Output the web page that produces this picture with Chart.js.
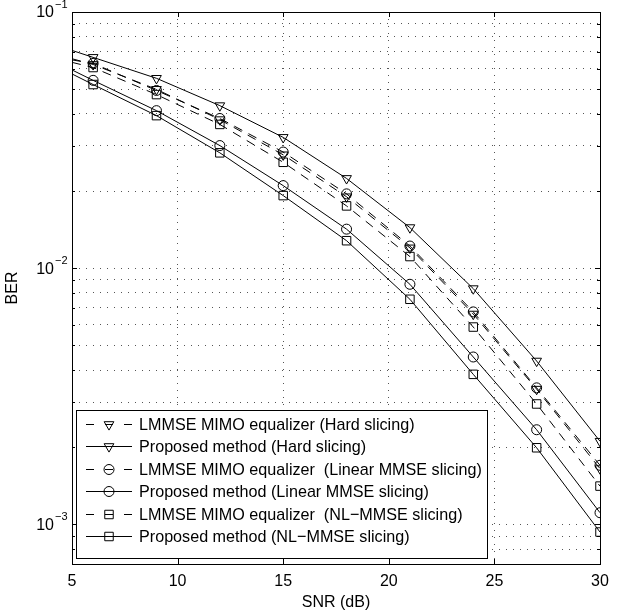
<!DOCTYPE html>
<html>
<head>
<meta charset="utf-8">
<script src="https://cdn.jsdelivr.net/npm/chart.js@4/dist/chart.umd.min.js"></script>
<style>
  html, body { margin: 0; padding: 0; background: #fff; }
  #c { display: block; }
</style>
</head>
<body>
<canvas id="c" width="624" height="615"></canvas>
<script>
// BER vs SNR curves (markers every 3 dB, line starts at 5 dB)
const snr = [5, 6, 9, 12, 15, 18, 21, 24, 27, 30];
const berLmmseHard = [0.0657, 0.0624, 0.0499, 0.0380, 0.0277, 0.0190, 0.0120, 0.00662, 0.00337, 0.00165];
const berPropHard  = [0.0708, 0.0665, 0.0551, 0.0431, 0.0324, 0.0224, 0.0144, 0.00832, 0.00434, 0.00211];
const berLmmseLin  = [0.0650, 0.0630, 0.0494, 0.0384, 0.0284, 0.0195, 0.0122, 0.00675, 0.00341, 0.00170];
const berPropLin   = [0.0594, 0.0541, 0.0412, 0.0301, 0.0210, 0.0142, 0.00865, 0.00450, 0.00234, 0.00111];
const berLmmseNl   = [0.0636, 0.0607, 0.0476, 0.0364, 0.0259, 0.0175, 0.0111, 0.00589, 0.00295, 0.00141];
const berPropNl    = [0.0573, 0.0521, 0.0394, 0.0282, 0.0192, 0.0128, 0.00756, 0.00385, 0.00199, 0.000933];

const seriesLabels = [
  'LMMSE MIMO equalizer (Hard slicing)',
  'Proposed method (Hard slicing)',
  'LMMSE MIMO equalizer  (Linear MMSE slicing)',
  'Proposed method (Linear MMSE slicing)',
  'LMMSE MIMO equalizer  (NL\u2212MMSE slicing)',
  'Proposed method (NL\u2212MMSE slicing)'
];
const xTicks = [5, 10, 15, 20, 25, 30];
const yDecades = [1e-3, 1e-2, 1e-1];
const yExps = ['\u22123', '\u22122', '\u22121'];
const yMinor = [7e-4, 8e-4, 9e-4,
  2e-3, 3e-3, 4e-3, 5e-3, 6e-3, 7e-3, 8e-3, 9e-3,
  2e-2, 3e-2, 4e-2, 5e-2, 6e-2, 7e-2, 8e-2, 9e-2];

const FONT = '"Liberation Sans", Arial, Helvetica, sans-serif';
const DASH = [9, 7];

function series(label, data, style, dashed, r) {
  return {
    label, data: snr.map((x, i) => ({ x, y: data[i] })),
    borderColor: '#000', borderWidth: 1, borderDash: dashed ? DASH : [],
    pointStyle: style, pointRotation: style === 'triangle' ? 180 : 0,
    pointRadius: snr.map(x => x % 3 === 0 ? r : 0), pointHoverRadius: 0,
    pointBorderColor: '#000', pointBackgroundColor: 'rgba(0,0,0,0)', pointBorderWidth: 1,
    tension: 0, fill: false, _r: r, _dashed: dashed
  };
}

function marker(ctx, ds, x, y) {
  ctx.save();
  ctx.fillStyle = 'rgba(0,0,0,0)'; ctx.strokeStyle = '#000'; ctx.lineWidth = 1; ctx.setLineDash([]);
  Chart.helpers.drawPoint(ctx, { pointStyle: ds.pointStyle, rotation: ds.pointRotation, radius: ds._r, borderWidth: 1 }, x, y);
  ctx.restore();
}

// legend box drawn inside the axes, over the curves
function drawLegend(chart) {
  const ctx = chart.ctx, L = 76.5, T = 410.5, W = 411, H = 148;
  ctx.save();
  ctx.fillStyle = '#fff'; ctx.fillRect(L, T, W, H);
  ctx.strokeStyle = '#000'; ctx.lineWidth = 1; ctx.strokeRect(L, T, W, H);
  chart.data.datasets.forEach((ds, i) => {
    const y = Math.round(424 + i * 22.4) + 0.5;
    ctx.beginPath();
    if (ds._dashed) {
      ctx.moveTo(86, y); ctx.lineTo(94, y);
      ctx.moveTo(105, y); ctx.lineTo(113, y);
      ctx.moveTo(124, y); ctx.lineTo(132, y);
    } else { ctx.moveTo(86, y); ctx.lineTo(132, y); }
    ctx.stroke();
    marker(ctx, ds, 109, y);
    // slightly tall, narrow lettering like the original
    ctx.save();
    ctx.translate(139, y + 1); ctx.scale(0.95, 1);
    ctx.fillStyle = '#000'; ctx.font = '17px ' + FONT;
    ctx.textAlign = 'left'; ctx.textBaseline = 'middle';
    ctx.fillText(ds.label, 0, 0);
    ctx.restore();
  });
  ctx.restore();
}

const frame = {
  id: 'frame',
  afterDatasetsDraw(chart) { drawLegend(chart); },
  afterDraw(chart) {
    const ctx = chart.ctx, a = chart.chartArea, xs = chart.scales.x, ys = chart.scales.y;
    ctx.save();
    ctx.strokeStyle = '#000'; ctx.lineWidth = 1; ctx.setLineDash([]);
    ctx.strokeRect(a.left + 0.5, a.top + 0.5, a.right - a.left, a.bottom - a.top);
    ctx.beginPath();
    xTicks.forEach(v => {
      const px = Math.round(xs.getPixelForValue(v)) + 0.5;
      ctx.moveTo(px, a.bottom); ctx.lineTo(px, a.bottom - 5);
      ctx.moveTo(px, a.top); ctx.lineTo(px, a.top + 5);
    });
    yDecades.concat(yMinor).forEach(v => {
      const py = Math.round(ys.getPixelForValue(v)) + 0.5, len = yDecades.includes(v) ? 5 : 3;
      ctx.moveTo(a.left, py); ctx.lineTo(a.left + len, py);
      ctx.moveTo(a.right, py); ctx.lineTo(a.right - len, py);
    });
    ctx.stroke();
    // decade labels with raised exponent
    ctx.fillStyle = '#000'; ctx.textBaseline = 'middle';
    yDecades.forEach((v, i) => {
      const py = ys.getPixelForValue(v);
      ctx.font = '16px ' + FONT; ctx.textAlign = 'right';
      ctx.fillText('10', 54, py + 1);
      ctx.font = '11px ' + FONT; ctx.textAlign = 'left';
      ctx.fillText(yExps[i], 55, py - 7);
    });
    ctx.restore();
  }
};

new Chart(document.getElementById('c'), {
  type: 'line',
  data: {
    datasets: [
      series(seriesLabels[0], berLmmseHard, 'triangle', true, 5.6),
      series(seriesLabels[1], berPropHard, 'triangle', false, 5.6),
      series(seriesLabels[2], berLmmseLin, 'circle', true, 5),
      series(seriesLabels[3], berPropLin, 'circle', false, 5),
      series(seriesLabels[4], berLmmseNl, 'rect', true, 6),
      series(seriesLabels[5], berPropNl, 'rect', false, 6)
    ]
  },
  options: {
    responsive: false, animation: false, devicePixelRatio: 1,
    layout: { padding: { top: 12, right: 24, left: 0, bottom: 0 } },
    plugins: { legend: { display: false }, tooltip: { enabled: false } },
    scales: {
      x: {
        type: 'linear', min: 5, max: 30,
        ticks: { stepSize: 5, color: '#000', font: { family: FONT, size: 16 }, padding: 8, maxRotation: 0 },
        grid: { color: '#555', lineWidth: 1, drawTicks: false },
        border: { display: false, dash: [1, 6] },
        title: { display: true, text: 'SNR (dB)', color: '#000', font: { family: FONT, size: 16, lineHeight: 1.2 }, padding: { top: 0, bottom: 3 } },
        afterFit: s => { s.height = 51; }
      },
      y: {
        type: 'logarithmic', min: 7e-4, max: 0.1,
        afterBuildTicks: s => { s.ticks = yDecades.concat(yMinor).sort((p, q) => p - q).map(v => ({ value: v })); },
        ticks: { display: false },
        grid: { color: '#555', lineWidth: 1, drawTicks: false },
        border: { display: false, dash: [1, 6] },
        title: { display: true, text: 'BER', color: '#000', font: { family: FONT, size: 16, lineHeight: 1.2 }, padding: { top: 3, bottom: 0 } },
        afterFit: s => { s.width = 72; }
      }
    }
  },
  plugins: [frame]
});
</script>
</body>
</html>
